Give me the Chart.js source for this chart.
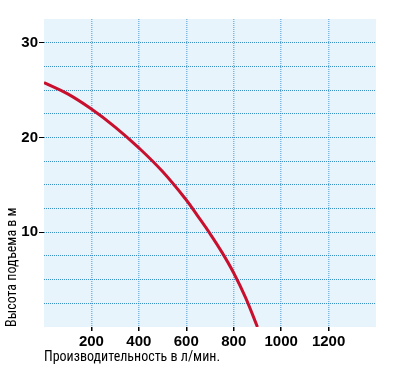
<!DOCTYPE html>
<html lang="ru">
<head>
    <meta charset="UTF-8">
    <title>Высота подъема</title>
    <script src="https://cdn.jsdelivr.net/npm/chart.js"></script>
    <style>
        body {
        margin: 0;
        padding: 0;
        background-color: white;
        }
        #wrap {
        width: 404px;
        height: 376px;
        }
    </style>
</head>
<body>
    <div id="wrap">
        <canvas id="pump-chart" width="404" height="376"></canvas>
    </div>

    <script>
        // производительность, л/мин
        const flow = [0, 100, 200, 300, 400, 500, 600, 650, 700, 750, 800, 850, 900];
        // высота подъема, м
        const head = [25.8, 24.6, 23.0, 21.1, 18.9, 16.4, 13.4, 11.65, 9.85, 7.9, 5.7, 3.1, 0];
        const xTickLabels = [200, 400, 600, 800, 1000, 1200];
        const yTickLabels = [10, 20, 30];

        const areaBg = {
            id: "areaBg",
            beforeDraw(chart) {
                const a = chart.chartArea;
                const c = chart.ctx;
                c.save();
                c.fillStyle = "rgb(232, 244, 252)";
                c.fillRect(a.left, a.top, a.right - a.left, a.bottom - a.top);
                c.restore();
            }
        };

        const titleFont = { family: "'Liberation Sans Narrow', 'Roboto Condensed', Roboto", size: 14 };

        const ctx = document.getElementById("pump-chart").getContext("2d");
        new Chart(ctx, {
            type: "scatter",
            data: {
                datasets: [{
                    data: flow.map((q, i) => ({ x: q, y: head[i] })),
                    showLine: true,
                    borderColor: "rgb(200, 16, 46)",
                    borderWidth: 3,
                    pointRadius: 0,
                    tension: 0.4
                }]
            },
            options: {
                responsive: false,
                animation: false,
                layout: { padding: { top: 19, right: 28, left: 0, bottom: 0 } },
                plugins: { legend: { display: false }, tooltip: { enabled: false } },
                scales: {
                    x: {
                        type: "linear",
                        min: 0,
                        max: 1400,
                        afterFit(s) { s.height = 49; },
                        border: { display: false, dash: [1, 1] },
                        ticks: {
                            stepSize: 200,
                            padding: 2,
                            color: "#000",
                            font: { family: "Liberation Sans", size: 15, weight: "bold" },
                            callback: v => xTickLabels.includes(v) ? String(v) : ""
                        },
                        grid: {
                            lineWidth: 1.5,
                            tickLength: 4,
                            color: c => xTickLabels.includes(c.tick.value) ? "rgba(100, 170, 215, 0.8)" : "rgba(0,0,0,0)",
                            tickColor: c => xTickLabels.includes(c.tick.value) ? "#000" : "rgba(0,0,0,0)"
                        },
                        title: {
                            display: true,
                            text: "Производительность в л/мин.",
                            align: "start",
                            color: "#000",
                            font: titleFont,
                            padding: { top: 0, bottom: 10 }
                        }
                    },
                    y: {
                        type: "linear",
                        min: 0,
                        max: 32.5,
                        afterFit(s) { s.width = 44; },
                        border: { display: false, dash: [1, 1] },
                        ticks: {
                            stepSize: 2.5,
                            padding: 1,
                            color: "#000",
                            font: { family: "Liberation Sans", size: 15, weight: "bold" },
                            callback: v => yTickLabels.includes(v) ? String(v) : ""
                        },
                        grid: {
                            lineWidth: 1,
                            tickLength: 5,
                            color: c => (c.tick.value > 0 && c.tick.value < 32.5) ? "rgba(40, 130, 190, 0.9)" : "rgba(0,0,0,0)",
                            tickColor: c => yTickLabels.includes(c.tick.value) ? "#000" : "rgba(0,0,0,0)"
                        },
                        title: {
                            display: true,
                            text: "Высота подъема в м",
                            align: "start",
                            color: "#000",
                            font: titleFont,
                            padding: { top: 4, bottom: 0 }
                        }
                    }
                }
            },
            plugins: [areaBg]
        });
    </script>
</body>
</html>
